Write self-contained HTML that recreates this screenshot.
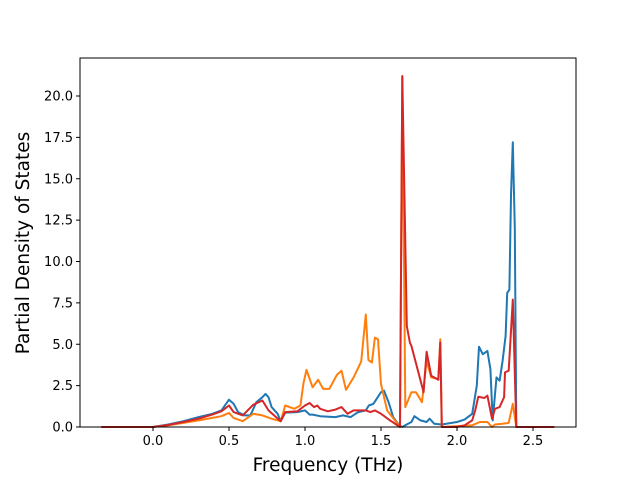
<!DOCTYPE html>
<html><head><meta charset="utf-8"><style>
body{margin:0;background:#fff;}
svg{display:block;font-family:"DejaVu Sans","Liberation Sans",sans-serif;}
</style></head><body>
<svg id="chart" width="640" height="480"></svg>
<script>
const blueF=[-0.34,0,0.1,0.2,0.3,0.39,0.45,0.5,0.53,0.56,0.6,0.64,0.68,0.72,0.74,0.76,0.78,0.82,0.84,0.87,0.95,1.0,1.03,1.05,1.1,1.2,1.25,1.3,1.35,1.4,1.42,1.45,1.5,1.52,1.55,1.58,1.62,1.64,1.66,1.7,1.72,1.76,1.8,1.82,1.85,1.9,2.0,2.05,2.1,2.13,2.145,2.17,2.2,2.22,2.235,2.26,2.28,2.3,2.32,2.33,2.345,2.355,2.367,2.38,2.39,2.64];
const blueV=[0,0,0.15,0.35,0.6,0.8,1.0,1.65,1.4,0.9,0.7,0.7,1.5,1.8,2.0,1.8,1.2,0.8,0.35,0.87,0.9,1.0,0.75,0.75,0.65,0.6,0.7,0.6,0.9,1.0,1.3,1.4,2.1,2.2,1.5,0.6,0.1,0,0.1,0.3,0.65,0.4,0.3,0.5,0.2,0.15,0.3,0.45,0.8,2.5,4.85,4.4,4.6,3.5,0.4,3.0,2.8,4.0,5.5,8.1,8.3,14,17.2,12,0,0];
const orangeF=[-0.34,0,0.1,0.2,0.3,0.39,0.45,0.5,0.53,0.59,0.66,0.72,0.78,0.84,0.87,0.93,0.97,0.99,1.01,1.05,1.086,1.12,1.16,1.21,1.24,1.27,1.32,1.37,1.40,1.417,1.44,1.46,1.48,1.50,1.54,1.6,1.625,1.64,1.655,1.66,1.70,1.73,1.77,1.80,1.83,1.877,1.89,1.90,2.1,2.15,2.2,2.23,2.25,2.3,2.34,2.367,2.39,2.64];
const orangeV=[0,0,0.1,0.25,0.4,0.55,0.65,0.85,0.55,0.35,0.8,0.7,0.5,0.35,1.3,1.1,1.3,2.65,3.45,2.4,2.85,2.3,2.3,3.15,3.4,2.25,3.0,3.95,6.8,4.05,3.9,5.4,5.3,2.6,1.0,0.3,0,21.2,6,1.2,2.1,2.1,1.5,4.0,3.0,2.9,5.3,0,0.1,0.3,0.3,0,0.15,0.2,0.25,1.4,0,0];
const redF=[-0.34,0,0.1,0.2,0.3,0.39,0.45,0.5,0.53,0.59,0.66,0.72,0.76,0.84,0.87,0.95,1.0,1.03,1.06,1.08,1.1,1.15,1.2,1.24,1.28,1.32,1.4,1.43,1.46,1.5,1.56,1.6,1.625,1.64,1.67,1.69,1.70,1.78,1.80,1.83,1.877,1.89,1.90,2.0,2.05,2.1,2.12,2.14,2.18,2.2,2.23,2.25,2.28,2.31,2.316,2.34,2.367,2.39,2.64];
const redV=[0,0,0.12,0.3,0.5,0.75,0.95,1.3,0.9,0.7,1.35,1.6,1.0,0.35,0.9,0.95,1.3,1.45,1.2,1.3,1.1,0.95,1.05,1.2,0.8,1.0,1.0,0.9,1.0,0.8,0.4,0.15,0,21.2,6.1,5.1,4.9,2.1,4.55,3.1,2.85,5.1,0,0,0.1,0.4,1.0,1.83,1.75,1.9,0.5,1.1,1.2,1.8,3.3,3.4,7.7,0,0];
const xTicks=[0,0.5,1.0,1.5,2.0,2.5];
const yTicks=[0,2.5,5,7.5,10,12.5,15,17.5,20];

const L=80,R=576,T=58,B=427;
const sx=f=>153+f*152;
const sy=v=>B-v*16.55;
const svg=document.getElementById('chart');
const NS='http://www.w3.org/2000/svg';
function mk(tag,attrs){const e=document.createElementNS(NS,tag);for(const k in attrs)e.setAttribute(k,attrs[k]);svg.appendChild(e);return e;}

const series=[[blueF,blueV,'#1f77b4','blue-series'],[orangeF,orangeV,'#ff7f0e','orange-series'],[redF,redV,'#d62728','red-series']];
for(const [fs,vs,c,n] of series){
  const d=fs.map((f,i)=>(i?'L':'M')+sx(f).toFixed(1)+','+sy(vs[i]).toFixed(1)).join(' ');
  const p=mk('path',{d:d,fill:'none',stroke:c,'stroke-width':2,'stroke-linejoin':'round'});
  
  
}
const frame=mk('rect',{x:L,y:T,width:R-L,height:B-T,fill:'none',stroke:'#000','stroke-width':1});


for(const t of xTicks){
  const x=sx(t);
  mk('line',{x1:x,x2:x,y1:B,y2:B+4,stroke:'#000'});
  const tx=mk('text',{x:x,y:B+18,'text-anchor':'middle','font-size':13});
  tx.textContent=t.toFixed(1);
  
  
}
for(const t of yTicks){
  const y=sy(t);
  mk('line',{x1:L-4,x2:L,y1:y,y2:y,stroke:'#000'});
  const tx=mk('text',{x:L-7,y:y+4.5,'text-anchor':'end','font-size':13});
  tx.textContent=t.toFixed(1);
  
  
}
const xt=mk('text',{x:328,y:471,'text-anchor':'middle','font-size':18.5});
xt.textContent='Frequency (THz)';


const yt=mk('text',{x:0,y:0,'text-anchor':'middle','font-size':18.5,transform:'translate(29,243) rotate(-90)'});
yt.textContent='Partial Density of States';


</script>
</body></html>
